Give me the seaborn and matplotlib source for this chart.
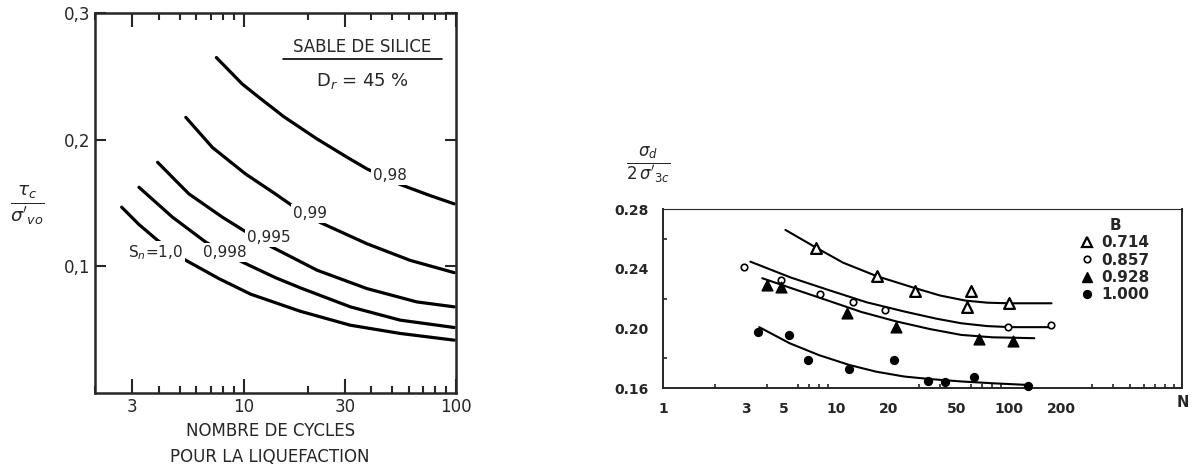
import numpy as np
import pandas as pd
import matplotlib.pyplot as plt
import seaborn as sns
from matplotlib.ticker import FixedLocator, NullFormatter, LogLocator, FuncFormatter
from matplotlib.lines import Line2D

# ---- left panel: curves (N, tau_c / sigma'_vo) ----
sn_labels = ['0,98', '0,99', '0,995', '0,998', 'S$_n$=1,0']
n_098 = [7.45, 9.86, 12.0, 15.5, 22.2, 30.7, 38.1, 54.6, 75, 98]
r_098 = [0.2648, 0.2439, 0.2325, 0.2180, 0.2005, 0.1861, 0.1769, 0.1646, 0.1560, 0.1493]
n_099 = [5.35, 7.13, 10.2, 14.1, 16.9, 23.0, 38.1, 60.8, 98]
r_099 = [0.2176, 0.1939, 0.1730, 0.1572, 0.1480, 0.1345, 0.1178, 0.1047, 0.0950]
n_0995 = [3.94, 5.53, 7.95, 9.86, 13.6, 22.2, 38.1, 65.3, 98]
r_0995 = [0.1821, 0.1572, 0.1388, 0.1290, 0.1152, 0.0969, 0.0824, 0.0719, 0.0680]
n_0998 = [3.22, 4.63, 6.64, 9.86, 14.1, 18.5, 31.8, 54.6, 98]
r_0998 = [0.1624, 0.1388, 0.1191, 0.1034, 0.0911, 0.0830, 0.0680, 0.0575, 0.0517]
n_100 = [2.67, 3.22, 3.94, 5.25, 7.66, 10.8, 18.5, 31.8, 54.6, 98]
r_100 = [0.1467, 0.1330, 0.1205, 0.1055, 0.0903, 0.0780, 0.0645, 0.0535, 0.0470, 0.0417]
# where each curve label sits
lab_n = [49, 20.5, 13.1, 8.17, 3.86]
lab_r = [0.1717, 0.1415, 0.123, 0.1108, 0.111]

# ---- right panel: test points per B value ----
b_values = ['0.714', '0.857', '0.928', '1.000']
pts_n_0714 = [7.7, 17.2, 28.6, 60.4, 56.9, 100]
pts_r_0714 = [0.2537, 0.2354, 0.2251, 0.2253, 0.2146, 0.2168]
pts_n_0857 = [2.95, 4.83, 8.1, 12.5, 19.1, 99, 174]
pts_r_0857 = [0.2414, 0.2325, 0.2231, 0.2175, 0.2124, 0.2008, 0.2023]
pts_n_0928 = [4.0, 4.83, 11.6, 22.2, 67, 106]
pts_r_0928 = [0.2291, 0.2280, 0.2106, 0.2008, 0.1927, 0.1916]
pts_n_1000 = [3.56, 5.35, 6.9, 11.9, 21.5, 34.0, 42.4, 62.6, 128]
pts_r_1000 = [0.1974, 0.1956, 0.1789, 0.1726, 0.1789, 0.1644, 0.1640, 0.1673, 0.1615]
# fitted trend lines
fit_n_0714 = [5.1, 7.7, 11, 17.2, 28.6, 40, 56, 75, 100, 176]
fit_r_0714 = [0.266, 0.254, 0.244, 0.235, 0.227, 0.222, 0.2186, 0.2172, 0.2168, 0.2168]
fit_n_0857 = [3.2, 5.5, 9.0, 15, 24.8, 38, 53, 75, 103, 176]
fit_r_0857 = [0.2447, 0.2340, 0.2258, 0.2175, 0.2113, 0.2065, 0.2034, 0.2015, 0.2008, 0.2008]
fit_n_0928 = [3.75, 6, 9.0, 14, 22.4, 35, 53, 80, 140]
fit_r_0928 = [0.2336, 0.2255, 0.2186, 0.2110, 0.2046, 0.1995, 0.1956, 0.1940, 0.1934]
fit_n_1000 = [3.6, 5.4, 8, 11.9, 17, 24.8, 35, 53, 80, 126]
fit_r_1000 = [0.2008, 0.190, 0.1820, 0.1755, 0.1710, 0.1677, 0.1660, 0.1644, 0.1632, 0.1621]

sns.set_style("ticks")
plt.rcParams['font.family'] = ['DejaVu Sans']
plt.rcParams['mathtext.fontset'] = 'dejavusans'

fig = plt.figure(figsize=(11.92, 4.68), dpi=100)
ax1 = fig.add_axes([0.0797, 0.1603, 0.3029, 0.812])
ax2 = fig.add_axes([0.5562, 0.1709, 0.4354, 0.3825])

# ---------------- left panel ----------------
curves = pd.concat([
    pd.DataFrame({'N': n, 'ratio': r, 'Sn': lab})
    for n, r, lab in zip([n_098, n_099, n_0995, n_0998, n_100],
                         [r_098, r_099, r_0995, r_0998, r_100], sn_labels)
])
for lab, sub in curves.groupby('Sn', sort=False):
    sns.lineplot(data=sub, x='N', y='ratio', ax=ax1, color='black', lw=2.3,
                 estimator=None, sort=False, legend=False)

for lab, xn, yr in zip(sn_labels, lab_n, lab_r):
    ax1.text(xn, yr, lab, ha='center', va='center', fontsize=11, zorder=5,
             bbox=dict(facecolor='white', edgecolor='none', pad=1.5))

ax1.set_xscale('log')
ax1.set_xlim(2, 100)
ax1.set_ylim(0, 0.3)
ax1.xaxis.set_major_locator(FixedLocator([3, 10, 30, 100]))
ax1.xaxis.set_minor_locator(FixedLocator([2, 4, 5, 6, 7, 8, 9, 20, 40, 50, 60, 70, 80, 90]))
ax1.xaxis.set_major_formatter(FuncFormatter(lambda v, p: f'{v:g}'))
ax1.xaxis.set_minor_formatter(NullFormatter())
ax1.set_yticks([0.1, 0.2, 0.3])
ax1.set_yticklabels(['0,1', '0,2', '0,3'])
ax1.tick_params(which='both', direction='in', top=True, right=True, labelsize=12, width=1.5)
ax1.tick_params(which='major', length=10)
ax1.tick_params(which='minor', length=5)
ax1.tick_params(axis='y', length=8)
for s in ax1.spines.values():
    s.set_linewidth(1.8)
ax1.set_xlabel('')
ax1.set_ylabel('')
ax1.text(0.485, -0.135, 'NOMBRE DE CYCLES\nPOUR LA LIQUEFACTION', transform=ax1.transAxes,
         ha='center', va='center', fontsize=12, linespacing=1.6)
ax1.text(-0.186, 0.495, r"$\frac{\tau_c}{\sigma'_{vo}}$", transform=ax1.transAxes,
         ha='center', va='center', fontsize=19)
ax1.text(0.74, 0.91, 'SABLE DE SILICE', transform=ax1.transAxes,
         ha='center', va='center', fontsize=12)
ax1.add_line(Line2D([0.52, 0.96], [0.878, 0.878], transform=ax1.transAxes,
                    color='black', lw=1.2))
ax1.text(0.74, 0.82, r'D$_r$ = 45 %', transform=ax1.transAxes,
         ha='center', va='center', fontsize=13)

# ---------------- right panel ----------------
marker_style = {
    '0.714': dict(marker='^', s=60, facecolor='white', edgecolor='black', linewidth=1.6),
    '0.857': dict(marker='o', s=22, facecolor='white', edgecolor='black', linewidth=1.2),
    '0.928': dict(marker='^', s=60, facecolor='black', edgecolor='black', linewidth=1.0),
    '1.000': dict(marker='o', s=32, facecolor='black', edgecolor='black', linewidth=1.0),
}
pts_n = [pts_n_0714, pts_n_0857, pts_n_0928, pts_n_1000]
pts_r = [pts_r_0714, pts_r_0857, pts_r_0928, pts_r_1000]
fit_n = [fit_n_0714, fit_n_0857, fit_n_0928, fit_n_1000]
fit_r = [fit_r_0714, fit_r_0857, fit_r_0928, fit_r_1000]

handles = []
for b, pn, pr, fn, fr in zip(b_values, pts_n, pts_r, fit_n, fit_r):
    sns.lineplot(x=fn, y=fr, ax=ax2, color='black', lw=1.5, estimator=None,
                 sort=False, legend=False)
    st = marker_style[b]
    sns.scatterplot(x=pn, y=pr, ax=ax2, marker=st['marker'], s=st['s'],
                    facecolor=st['facecolor'], edgecolor=st['edgecolor'],
                    linewidth=st['linewidth'], zorder=4, clip_on=False, legend=False)
    handles.append(Line2D([], [], ls='none', marker=st['marker'],
                          markersize=np.sqrt(st['s']), markerfacecolor=st['facecolor'],
                          markeredgecolor=st['edgecolor'], markeredgewidth=st['linewidth'],
                          label=b))

ax2.set_xscale('log')
ax2.set_xlim(1, 1000)
ax2.set_ylim(0.16, 0.28)
ax2.xaxis.set_major_locator(FixedLocator([1, 3, 5, 10, 20, 50, 100, 200]))
ax2.xaxis.set_major_formatter(FuncFormatter(lambda v, p: f'{v:g}'))
ax2.xaxis.set_minor_locator(LogLocator(base=10, subs=np.arange(2, 10)))
ax2.xaxis.set_minor_formatter(NullFormatter())
ax2.set_yticks([0.16, 0.20, 0.24, 0.28])
ax2.set_yticklabels(['0.16', '0.20', '0.24', '0.28'])
ax2.yaxis.set_minor_locator(FixedLocator([0.18, 0.22, 0.26]))
ax2.tick_params(which='both', direction='in', labelsize=10, width=1.2)
ax2.tick_params(which='major', length=0, pad=10)
ax2.tick_params(which='minor', length=3)
for lbl in ax2.get_xticklabels() + ax2.get_yticklabels():
    lbl.set_fontweight('bold')
for s in ax2.spines.values():
    s.set_linewidth(1.4)
ax2.spines['top'].set_linewidth(0.8)
ax2.set_xlabel('')
ax2.set_ylabel('')
ax2.text(1.002, -0.08, 'N', transform=ax2.transAxes, ha='center', va='center',
         fontsize=10.5, fontweight='bold')
ax2.text(-0.029, 1.25, r"$\frac{\sigma_d}{2\,\sigma'_{3c}}$", transform=ax2.transAxes,
         ha='center', va='center', fontsize=17)

leg = ax2.legend(handles=handles, title='B', loc='upper right', bbox_to_anchor=(0.955, 1.0),
                 frameon=False, handlelength=0.8, handletextpad=0.5, labelspacing=0.15,
                 prop={'weight': 'bold', 'size': 11}, borderaxespad=0.2)
leg.get_title().set_fontweight('bold')
leg.get_title().set_fontsize(11)

fig.savefig('out.png', dpi=100)
